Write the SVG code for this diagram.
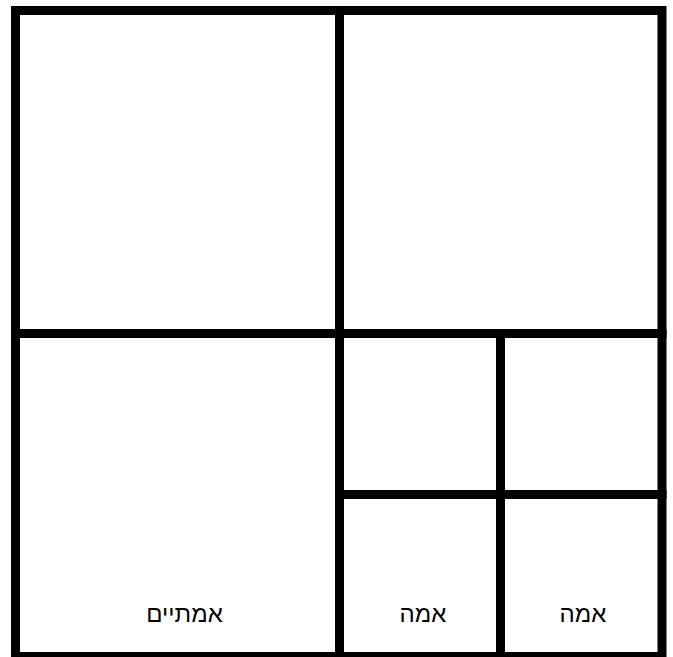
<svg xmlns="http://www.w3.org/2000/svg" width="673" height="657" viewBox="0 0 673 657">
<style>
.ln{stroke:#000;stroke-width:9;fill:none;stroke-linecap:square}
.lb{font-family:"Liberation Sans",Arial,sans-serif;font-size:24px;fill:#000;text-anchor:middle}
</style>
<rect width="673" height="657" fill="#fff"/>
<g id="connectors">
<rect class="ln" x="15.5" y="10.5" width="646.5" height="646"/>
<line class="ln" x1="339.5" y1="10.5" x2="339.5" y2="656.5"/>
<line class="ln" x1="15.5" y1="333.5" x2="662" y2="333.5"/>
<line class="ln" x1="500.5" y1="333.5" x2="500.5" y2="656.5"/>
<line class="ln" x1="339.5" y1="494.5" x2="662" y2="494.5"/>
</g>
<g id="node-big"><text class="lb" x="184.5" y="622" direction="rtl">אמתיים</text></g>
<g id="node-small1"><text class="lb" x="423" y="622" direction="rtl">אמה</text></g>
<g id="node-small2"><text class="lb" x="583" y="622" direction="rtl">אמה</text></g>
</svg>
